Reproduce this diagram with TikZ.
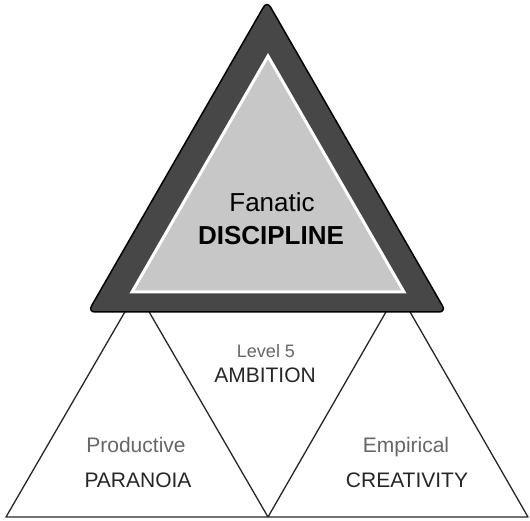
\documentclass[tikz,border=0pt]{standalone}
\usepackage{fontspec}
\setmainfont{Liberation Sans}
\usetikzlibrary{positioning}
\tikzset{
	outerTri/.style={draw=black, line width=1.5pt, fill=black!72, rounded corners=7pt},
	innerTri/.style={draw=white, line width=3pt, fill=black!22},
	baseTri/.style={draw=black!85, line width=1.3pt, line join=round},
	bigWord/.style={anchor=base, text=black, font=\fontsize{26}{30}\selectfont},
	boldWord/.style={bigWord, font=\fontsize{26}{30}\selectfont\bfseries},
	smallWord/.style={anchor=base, text=black!60, font=\fontsize{21}{25}\selectfont},
	capsWord/.style={anchor=base, text=black!85, font=\fontsize{21}{25}\selectfont}
}

\begin{document}
\begin{tikzpicture}[x=1pt,y=-1pt]
\useasboundingbox (0,0) rectangle (530,521);
% lower row of triangles
\coordinate (bl) at (6,517);
\coordinate (bm) at (268,517);
\coordinate (br) at (528,517);
\coordinate (pl) at (137,291);
\coordinate (pr) at (398,291);
\draw [baseTri] (bl) -- (pl) -- (bm) -- (pr) -- (br) -- cycle;
% top triangle
\coordinate (top) at (267,1);
\coordinate (tl) at (88,312);
\coordinate (tr) at (446,312);
\draw [outerTri] (top) -- (tr) -- (tl) -- cycle;
\coordinate (itop) at (268,56);
\coordinate (itl) at (132,292);
\coordinate (itr) at (404,292);
\draw [innerTri] (itop) -- (itr) -- (itl) -- cycle;
% labels
\node [bigWord] (fanatic) at (272,212) {Fanatic};
\node [boldWord] (discipline) at (271,245) {DISCIPLINE};
\node [smallWord, font=\fontsize{18}{22}\selectfont] (level) at (266,357) {Level 5};
\node [capsWord] (ambition) at (265,382) {AMBITION};
\node [smallWord] (productive) at (136,452) {Productive};
\node [capsWord] (paranoia) at (138,487) {PARANOIA};
\node [smallWord] (empirical) at (406,452) {Empirical};
\node [capsWord] (creativity) at (407,487) {CREATIVITY};
\end{tikzpicture}
\end{document}
